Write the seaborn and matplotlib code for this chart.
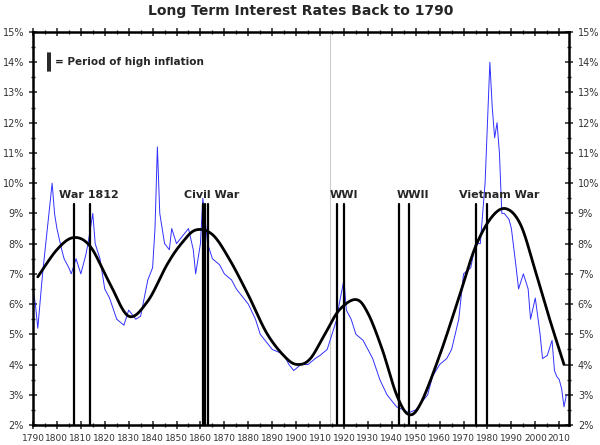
import numpy as np
import matplotlib
matplotlib.use("Agg")
import matplotlib.pyplot as plt
import seaborn as sns
import pandas as pd

years = [1790,1791,1792,1794,1796,1798,1799,1800,1802,1803,1805,1806,1808,1810,1812,1813,1815,1816,1818,1820,1822,1825,1828,1830,1833,1835,1838,1840,1841,1842,1843,1845,1847,1848,1850,1853,1855,1857,1858,1860,1861,1863,1865,1868,1870,1873,1875,1878,1880,1883,1885,1888,1890,1893,1895,1897,1899,1902,1905,1908,1910,1913,1915,1917,1918,1920,1921,1923,1925,1928,1930,1932,1935,1938,1940,1942,1945,1947,1950,1953,1955,1957,1960,1963,1965,1968,1970,1973,1975,1977,1979,1980,1981,1982,1983,1984,1985,1986,1987,1989,1990,1992,1993,1995,1997,1998,2000,2002,2003,2005,2007,2008,2009,2010,2011,2012,2013]
rates = [6.5,6.0,5.2,7.0,8.5,10.0,9.0,8.5,7.8,7.5,7.2,7.0,7.5,7.0,7.6,8.0,9.0,8.0,7.5,6.5,6.2,5.5,5.3,5.8,5.5,5.6,6.8,7.2,8.5,11.2,9.0,8.0,7.8,8.5,8.0,8.3,8.5,7.8,7.0,8.0,9.5,8.0,7.5,7.3,7.0,6.8,6.5,6.2,6.0,5.5,5.0,4.7,4.5,4.4,4.3,4.0,3.8,4.0,4.0,4.2,4.3,4.5,5.0,5.5,6.0,6.8,5.8,5.5,5.0,4.8,4.5,4.2,3.5,3.0,2.8,2.6,2.5,2.4,2.5,2.8,3.0,3.6,4.0,4.2,4.5,5.5,7.0,7.2,8.0,8.0,10.0,12.0,14.0,12.5,11.5,12.0,11.0,9.0,9.0,8.8,8.5,7.2,6.5,7.0,6.5,5.5,6.2,5.0,4.2,4.3,4.8,3.8,3.6,3.5,3.2,2.6,3.0]

trend_years = [1792,1800,1807,1814,1822,1830,1838,1846,1852,1858,1865,1872,1880,1888,1896,1901,1906,1912,1918,1925,1930,1936,1942,1947,1952,1960,1968,1975,1982,1988,1994,2000,2006,2012]
trend_vals = [6.9,7.8,8.2,7.9,6.7,5.6,6.1,7.3,8.0,8.45,8.3,7.5,6.3,5.0,4.2,4.0,4.2,5.0,5.8,6.15,5.7,4.5,3.0,2.35,2.7,4.3,6.2,7.9,8.9,9.15,8.6,7.1,5.5,4.0]

inflation_lines = [1807,1814,1861,1862,1863,1917,1920,1943,1947,1975,1980]
labels = ["War 1812","Civil War","WWI","WWII","Vietnam War"]
label_x = [1801,1853,1914,1942,1968]

def catmull(xs, ys, n=20):
    xs=np.array(xs,float); ys=np.array(ys,float)
    P=np.column_stack([xs,ys]); P=np.vstack([P[0],P,P[-1]])
    out=[]
    for i in range(1,len(P)-2):
        p0,p1,p2,p3=P[i-1],P[i],P[i+1],P[i+2]
        for t in np.linspace(0,1,n,endpoint=False):
            out.append(0.5*((2*p1)+(-p0+p2)*t+(2*p0-5*p1+4*p2-p3)*t*t+(-p0+3*p1-3*p2+p3)*t**3))
    out.append(P[-2]); out=np.array(out)
    return out[:,0],out[:,1]

sns.set_style("white")
fig, ax = plt.subplots(figsize=(6,4.45), dpi=100)
fig.subplots_adjust(left=0.055, right=0.948, top=0.928, bottom=0.045)
df = pd.DataFrame({"year":years,"rate":rates})
sns.lineplot(data=df, x="year", y="rate", ax=ax, color="#3030ff", lw=0.7)
tx, ty = catmull(trend_years, trend_vals)
ax.plot(tx, ty, color="black", lw=2)
ax.axvline(1914, color="#cccccc", lw=0.8, zorder=0)
for x in inflation_lines:
    ax.plot([x,x],[2,9.3], color="black", lw=1.6)
for t,x in zip(labels,label_x):
    ax.text(x, 9.45, t, fontsize=8, fontweight="bold", va="bottom")
ax.plot([1796.3,1796.3],[13.7,14.3],color="black",lw=1.2)
ax.plot([1797.3,1797.3],[13.7,14.3],color="black",lw=1.2)
ax.text(1799, 14.0, "= Period of high inflation", fontsize=7.5, fontweight="bold", va="center")
ax.set_xlim(1790,2014); ax.set_ylim(2,15)
ax.set_xticks(range(1790,2011,10))
ax.set_xticks(range(1790,2014,5), minor=True)
ax.set_yticks(range(2,16))
ax.set_yticks(np.arange(2,15,0.5), minor=True)
ax.set_yticklabels([f"{v}%" for v in range(2,16)])
ax.tick_params(labelsize=7, direction="inout", length=6, width=1.2, right=True, top=True, labelright=True, bottom=True, left=True, colors="#333333")
ax.tick_params(which="minor", direction="inout", length=3, width=1, right=True, top=True, bottom=True, left=True)
ax.tick_params(axis="x", labelsize=6.5)
for s in ax.spines.values():
    s.set_linewidth(1.8); s.set_color("black")
ax.set_xlabel(""); ax.set_ylabel("")
ax.set_title("Long Term Interest Rates Back to 1790", fontsize=10, fontweight="bold", pad=12)
fig.savefig("out.png", dpi=100)
